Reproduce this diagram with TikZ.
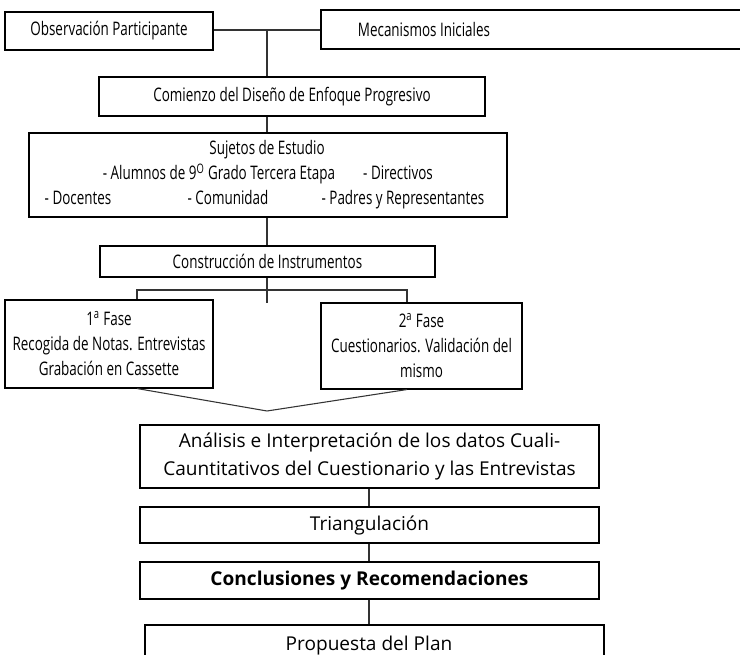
\documentclass[tikz,border=0pt]{standalone}
\usepackage{fontspec}
\setmainfont{Open Sans}
\newfontfamily\condfont[FakeStretch=0.72]{Open Sans}
\begin{document}
\begin{tikzpicture}[x=0.75pt,y=-0.75pt,
  box/.style={draw=black,line width=0.8pt,rectangle,inner sep=0pt,align=center},
  cbox/.style={box,font=\condfont\fontsize{14pt}{18.75pt}\selectfont},
  wbox/.style={box,font=\fontsize{14.3pt}{21pt}\selectfont},
  txt/.style={inner sep=0pt,anchor=base,font=\condfont\fontsize{14pt}{18.75pt}\selectfont},
  conn/.style={draw=black!80,line width=0.9pt}]
\useasboundingbox (0,0) rectangle (740,655);
\fill[white] (0,0) rectangle (740,655);
% top
\node[cbox,minimum width=208*0.75pt,minimum height=38*0.75pt] (obs) at (109,31) {Observación Participante};
\node[cbox,minimum width=424*0.75pt,minimum height=39*0.75pt] (mec) at (533,29.5) {};
\node[txt,anchor=center] (mect) at (424,30) {Mecanismos Iniciales};
\node[cbox,minimum width=386*0.75pt,minimum height=39*0.75pt] (com) at (292,96.5) {Comienzo del Diseño de Enfoque Progresivo};
\coordinate (j1) at (267,30);
\draw[conn] (obs.east |- j1) -- (mec.west |- j1);
\draw[conn] (j1) -- (j1 |- com.north);
% sujetos
\node[box,minimum width=478*0.75pt,minimum height=84*0.75pt] (suj) at (268,175) {};
\node[txt] (s1) at (267,155) {Sujetos de Estudio};
\node[txt] (s2) at (219,180) {- Alumnos de 9\textsuperscript{O} Grado Tercera Etapa};
\node[txt] (s3) at (398,180) {- Directivos};
\node[txt] (s4) at (78,205) {- Docentes};
\node[txt] (s5) at (228,205) {- Comunidad};
\node[txt] (s6) at (403,205) {- Padres y Representantes};
\draw[conn] (com.south -| j1) -- (suj.north -| j1);
\node[cbox,minimum width=335*0.75pt,minimum height=31*0.75pt] (cons) at (267.5,261.5) {Construcción de Instrumentos};
\draw[conn] (suj.south -| j1) -- (cons.north -| j1) ;
% phases
\node[cbox,minimum width=208*0.75pt,minimum height=88*0.75pt] (f1) at (109,344) {1\textsuperscript{a} Fase\\Recogida de Notas. Entrevistas\\Grabación en Cassette};
\node[cbox,minimum width=201*0.75pt,minimum height=86*0.75pt] (f2) at (421.5,346) {2\textsuperscript{a} Fase\\Cuestionarios. Validación del\\mismo};
\coordinate (b0) at (267,303);
\coordinate (bl) at (137,290);
\coordinate (br) at (407,290);
\draw[conn] (cons.south -| j1) -- (b0);
\draw[conn] (bl |- f1.north) -- (bl) -- (br) -- (br |- f2.north);
\coordinate (vb) at (267,411);
\draw[conn,line width=0.8pt] (bl |- f1.south) -- (vb) -- (br |- f2.south);
% lower
\node[wbox,minimum width=459*0.75pt,minimum height=63*0.75pt] (ana) at (369.5,456.5) {Análisis e Interpretación de los datos Cuali-\\Cauntitativos del Cuestionario y las Entrevistas};
\node[wbox,minimum width=459*0.75pt,minimum height=36*0.75pt] (tri) at (369.5,525) {Triangulación};
\node[wbox,minimum width=459*0.75pt,minimum height=37*0.75pt,font=\bfseries\fontsize{14.3pt}{21pt}\selectfont] (con) at (369.5,580.5) {Conclusiones y Recomendaciones};
\node[box,minimum width=459*0.75pt,minimum height=45*0.75pt] (pro) at (374.5,647.5) {};
\node[inner sep=0pt,anchor=base,font=\fontsize{14.3pt}{21pt}\selectfont] (prot) at (369,651) {Propuesta del Plan};
\draw[conn] (ana.south -| 369,0) -- (tri.north -| 369,0);
\draw[conn] (tri.south -| 369,0) -- (con.north -| 369,0);
\draw[conn] (con.south -| 369,0) -- (pro.north -| 369,0);
\end{tikzpicture}
\end{document}
